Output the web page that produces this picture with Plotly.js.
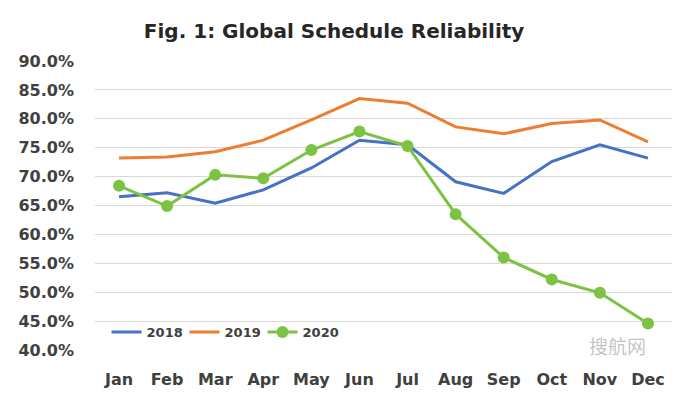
<!DOCTYPE html>
<html>
<head>
<meta charset="utf-8">
<script src="https://cdn.plot.ly/plotly-3.0.1.min.js"></script>
<style>html,body{margin:0;padding:0;background:#fff;}#chart{width:675px;height:397px;}</style>
</head>
<body>
<div id="chart"></div>
<script>
const months = ["Jan","Feb","Mar","Apr","May","Jun","Jul","Aug","Sep","Oct","Nov","Dec"];
const y2018 = [66.5, 67.2, 65.4, 67.7, 71.5, 76.3, 75.5, 69.1, 67.1, 72.6, 75.5, 73.2];
const y2019 = [73.2, 73.4, 74.3, 76.3, 79.8, 83.5, 82.7, 78.6, 77.4, 79.2, 79.8, 76.0];
const y2020 = [68.4, 64.9, 70.3, 69.7, 74.6, 77.8, 75.3, 63.5, 56.0, 52.2, 49.9, 44.6];

const FONT = "DejaVu Sans, Arial, sans-serif";
const traces = [
  {x: months, y: y2018, name: "2018", type: "scatter", mode: "lines",
   line: {color: "#4472C4", width: 3}},
  {x: months, y: y2019, name: "2019", type: "scatter", mode: "lines",
   line: {color: "#ED7D31", width: 3}},
  {x: months, y: y2020, name: "2020", type: "scatter", mode: "lines+markers",
   line: {color: "#7DC243", width: 3}, marker: {color: "#7DC243", size: 12}}
];

const layout = {
  width: 675, height: 397,
  margin: {l: 95, r: 3, t: 61, b: 47},
  paper_bgcolor: "#ffffff", plot_bgcolor: "#ffffff",
  font: {family: FONT, color: "#404040"},
  title: {text: "Fig. 1: Global Schedule Reliability", x: 0.495, xref: "container",
          y: 0.922, yref: "container", yanchor: "middle", xanchor: "center",
          font: {family: FONT, size: 20, color: "#262626", weight: "bold"}},
  xaxis: {type: "category", range: [-0.5, 11.5], showgrid: false, zeroline: false, showline: false,
          ticks: "", ticklabelstandoff: 18,
          tickfont: {family: FONT, size: 16, color: "#404040", weight: "bold"}},
  yaxis: {range: [40, 90], dtick: 5, tick0: 40, ticksuffix: "%", tickformat: ".1f",
          showgrid: true, gridcolor: "#d9d9d9", gridwidth: 1, zeroline: false, showline: false,
          ticks: "", ticklabelstandoff: 20,
          tickfont: {family: FONT, size: 16, color: "#404040", weight: "bold"}},
  showlegend: true,
  legend: {orientation: "h", x: 0.02, xanchor: "left", y: 0.062, yanchor: "middle",
           bgcolor: "rgba(0,0,0,0)", entrywidth: 33, entrywidthmode: "pixels",
           font: {family: FONT, size: 13, color: "#404040", weight: "bold"}},
  annotations: [
    {text: "搜航网", xref: "paper", yref: "paper", x: 0.905, y: 0.015, xanchor: "center", yanchor: "middle",
     showarrow: false, font: {family: "Noto Sans CJK SC", size: 19, color: "rgba(120,120,120,0.45)"}}
  ]
};

Plotly.newPlot("chart", traces, layout, {displayModeBar: false, staticPlot: true});
</script>
</body>
</html>
